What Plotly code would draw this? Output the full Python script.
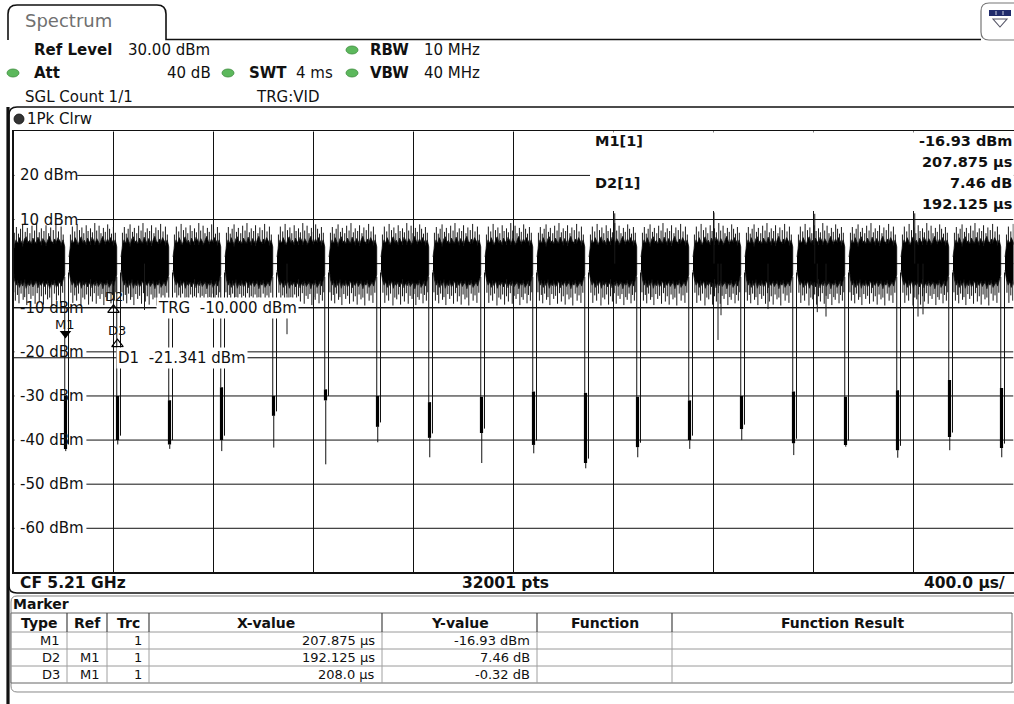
import plotly.graph_objects as go

W, H = 1014, 704

# ---------------- data ----------------
x_range_us = [0, 4000]
y_range_dbm = [-70, 30]
x_div_us = 400
y_div_db = 10

grid_label_levels = [20, 10, -10, -20, -30, -40, -50, -60]
grid_label_texts = ["20 dBm", "10 dBm", "-10 dBm", "-20 dBm", "-30 dBm", "-40 dBm", "-50 dBm", "-60 dBm"]

# burst gaps (falling edge times, us) and the low-level part of each gap
gap_times_us = [208, 416, 624, 832, 1040, 1248, 1456, 1664, 1872, 2080,
                2288, 2496, 2704, 2912, 3120, 3328, 3536, 3744, 3952]
gap_band_top_dbm = [-30, -30, -31, -28, -30, -28.5, -30, -31.4, -30.2, -29,
                    -29.3, -30.2, -31, -30, -29, -30.2, -28.7, -26.4, -28.2]
gap_band_bottom_dbm = [-42, -40, -41, -40, -34.5, -31, -37, -39.5, -38.4, -41.1,
                       -45.2, -41.6, -40, -37.5, -40.7, -41.1, -42.3, -39.3, -41.8]
gap_min_dbm = [-42.5, -41, -42, -42.5, -41.7, -45.5, -40.5, -43.9, -45.2, -43,
               -46.4, -43.9, -42, -40, -43.4, -41.5, -44, -42.3, -43.9]
gap_fall_offset_us = -3
gap_rise_offset_us = 12
next_burst_offset_us = 14
first_burst_start_us = -3
last_burst_end_us = 4160

# envelope of one burst (dense peak-detected noise), top and bottom edge, dBm
burst_top_dbm = [1.5, 4.2, 5.4, 4.6, 5.9, 5.0, 4.3, 5.6, 6.1, 4.8, 5.3, 4.5, 5.8, 5.1, 4.7, 6.0,
                 5.2, 4.6, 5.7, 5.0, 4.4, 5.5, 6.2, 5.0, 4.8, 5.6, 4.9, 5.9, 5.2, 4.5, 5.4, 3.8]
burst_bot_dbm = [-1.5, -3.7, -4.9, -4.1, -5.4, -4.3, -5.1, -3.9, -5.6, -4.5, -5.0, -4.2, -5.3, -4.7, -4.0, -5.5,
                 -4.4, -5.0, -4.1, -5.2, -4.6, -4.3, -5.7, -4.5, -4.9, -4.1, -5.4, -4.7, -4.2, -5.1, -4.0, -2.5]
# hair-line peaks inside a burst (relative position, level dBm)
spike_up_pos = [0.03, 0.07, 0.11, 0.15, 0.19, 0.24, 0.28, 0.33, 0.37, 0.42, 0.46,
                0.51, 0.55, 0.60, 0.64, 0.69, 0.73, 0.78, 0.83, 0.88, 0.93, 0.97]
spike_up_dbm = [7.0, 8.3, 6.8, 7.9, 8.9, 7.2, 8.1, 6.9, 8.6, 7.5, 9.2,
                7.1, 8.0, 7.4, 8.7, 6.9, 8.2, 7.6, 9.0, 7.3, 8.4, 6.6]
spike_dn_pos = [0.02, 0.05, 0.09, 0.12, 0.16, 0.20, 0.23, 0.27, 0.31, 0.35, 0.39, 0.43, 0.47,
                0.51, 0.55, 0.59, 0.63, 0.67, 0.71, 0.75, 0.80, 0.84, 0.88, 0.92, 0.96]
spike_dn_dbm = [-6.5, -8.4, -7.1, -9.0, -6.8, -8.2, -7.6, -9.4, -6.9, -8.0, -7.3, -9.1, -6.7,
                -8.6, -7.4, -9.3, -7.0, -8.1, -7.7, -9.5, -6.8, -8.4, -7.2, -8.9, -6.6]

tall_spike_us = [2405, 2802, 3205, 3605]
tall_spike_dbm = [11.4, 11.6, 11.3, 11.4]
deep_spike_us = [524, 1094, 2818, 2830, 3018, 3215, 3250, 3618, 3638]
deep_spike_dbm = [-10.5, -16.0, -17.3, -11.7, -10.3, -11.0, -12.0, -12.0, -11.5]

trg_level_dbm = -10.0
d1_level_dbm = -21.341

marker_names = ["M1", "D2", "D3"]
marker_refs = ["", "M1", "M1"]
marker_trc = ["1", "1", "1"]
marker_x_us = [207.875, 192.125, 208.0]       # M1 absolute, D2/D3 relative to M1
marker_y_val = [-16.93, 7.46, -0.32]           # M1 dBm, D2/D3 dB relative to M1
marker_x_txt = ["207.875 µs", "192.125 µs", "208.0 µs"]
marker_y_txt = ["-16.93 dBm", "7.46 dB", "-0.32 dB"]

# ---------------- helpers ----------------
FONT = "DejaVu Sans, Verdana, sans-serif"
annots = []
shapes = []

X0, X1 = 13.5, 1013.5      # plot area, pixels
Y0, Y1 = 131.3, 572.4
US_PER_PX = (x_range_us[1] - x_range_us[0]) / (X1 - X0)
DB_PER_PX = (y_range_dbm[1] - y_range_dbm[0]) / (Y1 - Y0)


def px(x):
    return x / W


def py(y):
    return 1 - y / H


def x_of(pxv):
    return x_range_us[0] + (pxv - X0) * US_PER_PX


def y_of(pyv):
    return y_range_dbm[1] - (pyv - Y0) * DB_PER_PX


def txt(x, y, s, size=15, anchor="left", color="#111", bold=False, family=FONT, bg=None):
    a = dict(x=px(x), y=py(y), xref="paper", yref="paper", text=("<b>%s</b>" % s) if bold else s,
             showarrow=False, xanchor=anchor, yanchor="middle",
             font=dict(family=family, size=size, color=color), borderpad=0)
    if bg:
        a["bgcolor"] = bg
    annots.append(a)


def path(points_cmds, color="#111", width=1.0, fill=None, layer="above"):
    parts = []
    for cmd in points_cmds:
        c = cmd[0]
        nums = cmd[1:]
        coords = []
        for i in range(0, len(nums), 2):
            coords.append("%.5f,%.5f" % (px(nums[i]), py(nums[i + 1])))
        parts.append(c + " " + " ".join(coords))
    shapes.append(dict(type="path", xref="paper", yref="paper", path=" ".join(parts),
                       line=dict(color=color, width=width), layer=layer,
                       fillcolor=fill if fill else "rgba(0,0,0,0)"))


def rect(x0, y0, x1, y1, fill, line=None, width=0, layer="above"):
    shapes.append(dict(type="rect", xref="paper", yref="paper", x0=px(x0), x1=px(x1),
                       y0=py(y1), y1=py(y0), fillcolor=fill,
                       line=dict(color=line or fill, width=width), layer=layer))


def line(x0, y0, x1, y1, color="#111", width=1.0, layer="above"):
    shapes.append(dict(type="line", xref="paper", yref="paper", x0=px(x0), x1=px(x1),
                       y0=py(y0), y1=py(y1), line=dict(color=color, width=width), layer=layer))


def dot(x, y, color="#5cb85c", edge="#3d8b3d", rx=6, ry=4):
    shapes.append(dict(type="circle", xref="paper", yref="paper", x0=px(x - rx), x1=px(x + rx),
                       y0=py(y + ry), y1=py(y - ry), fillcolor=color, line=dict(color=edge, width=0.8),
                       layer="above"))


def interp(vals, u):
    f = u * (len(vals) - 1)
    i = min(int(f), len(vals) - 2)
    r = f - i
    return vals[i] * (1 - r) + vals[i + 1] * r


# ---------------- trace construction ----------------
burst_starts = [first_burst_start_us] + [c + next_burst_offset_us for c in gap_times_us]
burst_ends = [c + gap_fall_offset_us for c in gap_times_us] + [last_burst_end_us]

fx, fy = [], []
sx, sy = [], []
n_env = len(burst_top_dbm)
for k, (s, e) in enumerate(zip(burst_starts, burst_ends)):
    ts = [s + (e - s) * i / (n_env - 1) for i in range(n_env)]
    fx += ts + ts[::-1] + [None]
    fy += burst_top_dbm + burst_bot_dbm[::-1] + [None]
    flip = (k % 2 == 1)
    for u, lv in zip(spike_up_pos, spike_up_dbm):
        uu = 1 - u if flip else u
        t = s + (e - s) * uu
        sx += [t, t, None]
        sy += [interp(burst_top_dbm, uu) - 0.5, lv, None]
    for u, lv in zip(spike_dn_pos, spike_dn_dbm):
        uu = 1 - u if flip else u
        t = s + (e - s) * uu
        sx += [t, t, None]
        sy += [interp(burst_bot_dbm, uu) + 0.5, lv, None]

for t, lv in zip(tall_spike_us + deep_spike_us, tall_spike_dbm + deep_spike_dbm):
    sx += [t, t, None]
    sy += [0, lv, None]

gx, gy = [], []
bx, by = [], []
for c, bt, bb, mn in zip(gap_times_us, gap_band_top_dbm, gap_band_bottom_dbm, gap_min_dbm):
    tf = c + gap_fall_offset_us
    tr = c + gap_rise_offset_us
    gx += [tf, tf, None, c + 1, c + 1, None, tr, tr, None]
    gy += [-3, bt, None, bb, mn, None, bb + 1, -2, None]
    bx += [c, c, None]
    by += [bt, bb, None]

m1x, m1y = marker_x_us[0], marker_y_val[0]
mk_x = [m1x] + [m1x + d for d in marker_x_us[1:]]
mk_y = [m1y] + [m1y + d for d in marker_y_val[1:]]

fig = go.Figure()
fig.add_trace(go.Scatter(x=fx, y=fy, mode="lines", fill="toself", fillcolor="#000",
                         line=dict(color="#000", width=0.7), hoverinfo="skip"))
fig.add_trace(go.Scatter(x=sx, y=sy, mode="lines", line=dict(color="#1a1a1a", width=1), hoverinfo="skip"))
fig.add_trace(go.Scatter(x=gx, y=gy, mode="lines", line=dict(color="#111", width=1), hoverinfo="skip"))
fig.add_trace(go.Scatter(x=bx, y=by, mode="lines", line=dict(color="#000", width=3.2), hoverinfo="skip"))
# marker symbols: tip on the point
fig.add_trace(go.Scatter(x=[mk_x[0]], y=[mk_y[0] + 1.1], mode="markers",
                         marker=dict(symbol="triangle-down", size=10, color="#000"), hoverinfo="skip"))
fig.add_trace(go.Scatter(x=mk_x[1:], y=[v - 1.0 for v in mk_y[1:]], mode="markers",
                         marker=dict(symbol="triangle-up-open", size=10, color="#000",
                                     line=dict(width=1.2, color="#000")), hoverinfo="skip"))

# marker labels
for name, x, y, dy in zip(marker_names, mk_x, mk_y, [14, 9, 9]):
    annots.append(dict(x=x, y=y, xref="x", yref="y", text=name, showarrow=False, yshift=dy,
                       xanchor="center", yanchor="middle", font=dict(family=FONT, size=13, color="#111")))

# ---------------- plot grid (drawn below the trace) ----------------
t = x_range_us[0] + x_div_us
while t < x_range_us[1]:
    shapes.append(dict(type="line", xref="x", yref="y", x0=t, x1=t, y0=y_range_dbm[0], y1=y_range_dbm[1],
                       line=dict(color="#111", width=1), layer="below"))
    t += x_div_us
lv = y_range_dbm[0] + y_div_db
while lv < y_range_dbm[1]:
    shapes.append(dict(type="line", xref="x", yref="y", x0=x_range_us[0], x1=x_range_us[1], y0=lv, y1=lv,
                       line=dict(color="#111", width=1), layer="below"))
    lv += y_div_db

# white patches behind grid labels (hide gridline, keep trace)
for lv, lab in zip(grid_label_levels, grid_label_texts):
    if lv == trg_level_dbm:
        continue
    w = 9.2 * len(lab) + 4
    shapes.append(dict(type="rect", xref="x", yref="y", x0=x_of(X0 + 1), x1=x_of(18 + w),
                       y0=lv - 1.6, y1=lv + 1.6, fillcolor="white", line=dict(width=0), layer="below"))
# marker info box
shapes.append(dict(type="rect", xref="x", yref="y", x0=x_of(590), x1=x_range_us[1],
                   y0=y_of(211), y1=y_of(Y0 + 1), fillcolor="white", line=dict(width=0), layer="below"))
# trigger and display lines
shapes.append(dict(type="line", xref="x", yref="y", x0=x_range_us[0], x1=x_range_us[1],
                   y0=trg_level_dbm, y1=trg_level_dbm, line=dict(color="#000", width=1), layer="below"))
shapes.append(dict(type="line", xref="x", yref="y", x0=x_range_us[0], x1=x_range_us[1],
                   y0=d1_level_dbm, y1=d1_level_dbm, line=dict(color="#000", width=1), layer="below"))

for lv, lab in zip(grid_label_levels, grid_label_texts):
    annots.append(dict(x=px(18), y=lv, xref="paper", yref="y", text=lab, showarrow=False,
                       xanchor="left", yanchor="middle", font=dict(family=FONT, size=15, color="#111")))

annots.append(dict(x=px(156), y=trg_level_dbm, xref="paper", yref="y",
                   text="TRG  %.3f dBm" % trg_level_dbm, showarrow=False, xanchor="left", yanchor="middle",
                   bgcolor="white", font=dict(family=FONT, size=15, color="#111")))
annots.append(dict(x=px(116), y=d1_level_dbm, xref="paper", yref="y",
                   text="D1  %.3f dBm" % d1_level_dbm, showarrow=False, xanchor="left", yanchor="middle",
                   bgcolor="white", font=dict(family=FONT, size=15, color="#111")))

# marker info text in the plot
txt(594, 141, "M1[1]", 14.5, bold=True)
txt(1013, 141, marker_y_txt[0], 14.5, anchor="right", bold=True)
txt(1013, 162, marker_x_txt[0], 14.5, anchor="right", bold=True)
txt(594, 183, "D2[1]", 14.5, bold=True)
txt(1013, 183, marker_y_txt[1], 14.5, anchor="right", bold=True)
txt(1013, 204, marker_x_txt[1], 14.5, anchor="right", bold=True)

# ---------------- header ----------------
path([("M", 8, 40), ("L", 8, 14), ("Q", 8, 5, 17, 5), ("L", 157, 5), ("Q", 166, 5, 166, 14),
      ("L", 166, 39.5), ("L", 981, 39.5)], width=1.6)
txt(24, 21, "Spectrum", 18, color="#707070")
# top right icon
path([("M", 989, 3), ("L", 1020, 3), ("L", 1020, 40), ("L", 989, 40), ("Q", 981, 40, 981, 32),
      ("L", 981, 11), ("Q", 981, 3, 989, 3)], color="#777", width=1.2, fill="white")
rect(989, 10, 1011, 16, "#1f2a6b")
for xx in [995.5, 1002.5]:
    rect(xx, 11, xx + 1, 15, "#c8cce0")
path([("M", 993, 19), ("L", 1007, 19), ("L", 1000, 27), ("Z",)], color="#556", width=1.1)

txt(33, 50, "Ref Level", 15, bold=True)
txt(127, 50, "30.00 dBm", 15)
dot(352, 50)
txt(369, 50, "RBW", 15, bold=True)
txt(423, 50, "10 MHz", 15)

dot(13, 73)
txt(33, 73, "Att", 15, bold=True)
txt(212, 73, "40 dB", 15, anchor="right")
dot(228, 73)
txt(248, 73, "SWT", 15, bold=True)
txt(295, 73, "4 ms", 15)
dot(352, 73)
txt(369, 73, "VBW", 15, bold=True)
txt(423, 73, "40 MHz", 15)

txt(24, 97, "SGL Count 1/1", 15)
txt(255, 97, "TRG:VID", 15)

# trace window frame
path([("M", 1020, 107), ("L", 17, 107), ("Q", 9, 107, 9, 115), ("L", 9, 586), ("Q", 9, 593, 17, 593),
      ("L", 1020, 593)], width=1.6)
line(8, 107, 8, 704, width=3.2)
dot(19, 119, color="#333", edge="#111", rx=5, ry=5)
txt(26, 119, "1Pk Clrw", 15)

# bottom bar
txt(19, 583, "CF 5.21 GHz", 15.5, bold=True)
txt(505, 583, "32001 pts", 15.5, bold=True, anchor="center")
txt(1006, 583, "400.0 µs/", 15.5, bold=True, anchor="right")

# ---------------- marker table ----------------
path([("M", 1020, 596), ("L", 17, 596), ("Q", 11, 596, 11, 602), ("L", 11, 686), ("Q", 11, 692, 17, 692),
      ("L", 1020, 692)], color="#888", width=1)
txt(12, 604, "Marker", 14, bold=True)

col_edges = [11, 67, 107, 149, 382, 537, 672, 1012]
row_edges = [613, 632, 649, 666, 683]
rect(11, 613, 1012, 683, "white", line="#666", width=1)
for yy in row_edges[1:-1]:
    line(11, yy, 1012, yy, color="#9a9a9a", width=1)
for xx in col_edges[1:-1]:
    line(xx, 613, xx, 632, color="#444", width=1.2)
    line(xx, 632, xx, 683, color="#a0a0a0", width=1)

headers = ["Type", "Ref", "Trc", "X-value", "Y-value", "Function", "Function Result"]
for i, hdr in enumerate(headers):
    txt((col_edges[i] + col_edges[i + 1]) / 2, 623, hdr, 14, bold=True, anchor="center")

for r in range(len(marker_names)):
    yy = (row_edges[r + 1] + row_edges[r + 2]) / 2
    cells = [marker_names[r], marker_refs[r], marker_trc[r], marker_x_txt[r], marker_y_txt[r]]
    for i, cval in enumerate(cells):
        if cval:
            txt(col_edges[i + 1] - 6, yy, cval, 13, anchor="right")

# ---------------- layout ----------------
fig.update_layout(
    width=W, height=H, margin=dict(l=0, r=0, t=0, b=0),
    paper_bgcolor="white", plot_bgcolor="rgba(0,0,0,0)", showlegend=False, hovermode=False,
    xaxis=dict(range=x_range_us, domain=[px(X0), px(X1)], showgrid=False, zeroline=False,
               showticklabels=False, ticks="", showline=True, linecolor="#111", linewidth=1.2, mirror=True),
    yaxis=dict(range=y_range_dbm, domain=[py(Y1), py(Y0)], showgrid=False, zeroline=False,
               showticklabels=False, ticks="", showline=True, linecolor="#111", linewidth=1.2, mirror=True),
    annotations=annots, shapes=shapes,
)

fig.write_html("out.html", config={"displayModeBar": False, "staticPlot": True},
               post_script="document.body.style.margin='0';document.body.style.overflow='hidden';")
